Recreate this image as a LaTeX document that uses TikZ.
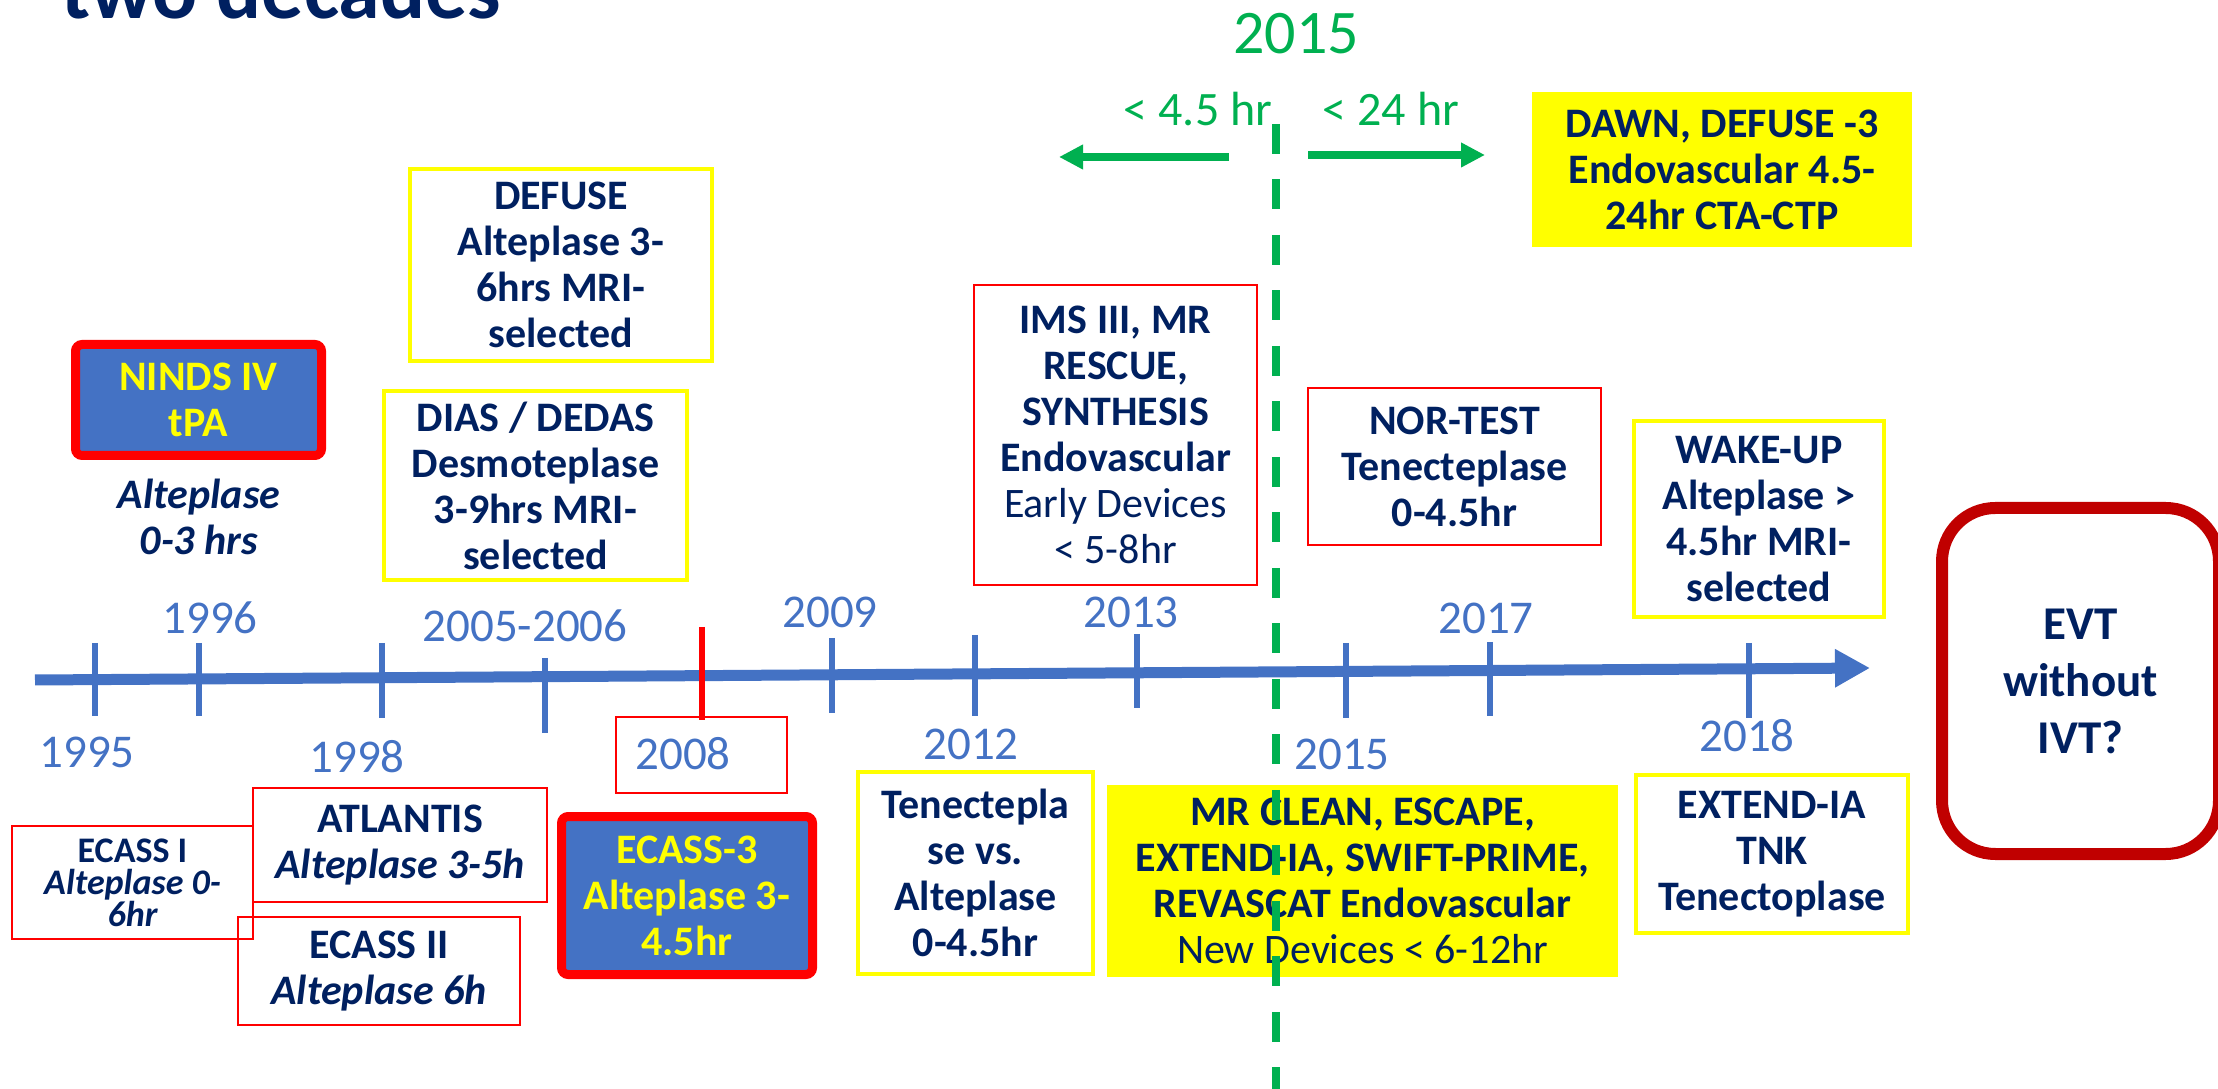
\documentclass[tikz,border=0pt]{standalone}
\usepackage{fontspec}
\setmainfont{Carlito}
\usetikzlibrary{arrows.meta}
\definecolor{navy}{HTML}{002060}
\definecolor{tlblue}{HTML}{4472C4}
\definecolor{tyellow}{HTML}{FFFF00}
\definecolor{tred}{HTML}{FF0000}
\definecolor{dkred}{HTML}{C00000}
\definecolor{tgreen}{HTML}{00B050}
\newcommand{\fsz}[2]{\fontsize{#1}{#2}\selectfont}
\begin{document}
\begin{tikzpicture}[x=0.3pt,y=-0.3pt,
  boxtxt/.style={font=\bfseries\fsz{12.6}{13.8}, text=navy, align=center, inner sep=0pt},
  ybox/.style={boxtxt, draw=tyellow, line width=1.2pt},
  yfill/.style={boxtxt, fill=tyellow},
  rbox/.style={boxtxt, draw=tred, line width=0.6pt},
  bbox/.style={boxtxt, fill=tlblue, draw=tred, line width=2.7pt, rounded corners=2pt, text=tyellow},
  year/.style={text=tlblue, font=\fsz{14.1}{16}, anchor=base, inner sep=0pt},
  tick/.style={draw=tlblue, line width=1.8pt},
  garrow/.style={draw=tgreen, line width=2.5pt, -{Triangle[length=7.2pt,width=7pt]}},
  gtxt/.style={text=tgreen, anchor=base, inner sep=0pt}
]
\useasboundingbox (0,0) rectangle (2218,1089);

% title
\node[anchor=base west, inner sep=0pt, font=\bfseries\fsz{25.2}{30}, text=navy] (title) at (61,19) {two decades};

% main axis
\coordinate (axL) at (35,680);
\coordinate (axR) at (1870,668);
\draw[draw=tlblue, line width=3.3pt, -{Triangle[length=10.5pt,width=10.8pt]}] (axL) -- (axR);

% ticks
\foreach \x/\a/\b in {95/643/716, 199/643/716, 382/643/718, 545/658/733, 832/638/713,
  975/635/716, 1137/634/708, 1346/643/718, 1490/642/716, 1749/643/718}
  \draw[tick] (\x,\a) -- (\x,\b);
\draw[draw=tred, line width=1.6pt] (702,627) -- (702,720);

% year labels
\node[year] (y1996) at (210,634) {1996};
\node[year] (y2005) at (525,642) {2005-2006};
\node[year] (y2009) at (830,627) {2009};
\node[year] (y2013) at (1131,627) {2013};
\node[year] (y2017) at (1486,634) {2017};
\node[year] (y1995) at (87,767) {1995};
\node[year] (y1998) at (357,772) {1998};
\node[year] (y2008) at (683,770) {2008};
\node[year] (y2012) at (971,760) {2012};
\node[year] (y2015) at (1342,770) {2015};
\node[year] (y2018) at (1747,752) {2018};

% upper boxes
\node[bbox, minimum width=73.8pt, minimum height=33.3pt] (ninds) at (198.5,400) {NINDS IV\\tPA};
\node[boxtxt, font=\bfseries\itshape\fsz{12.6}{13.8}] (alt03) at (199,517) {Alteplase\\0-3 hrs};
\node[ybox, minimum width=90.6pt, minimum height=57.6pt] (defuse) at (561,265) {DEFUSE\\Alteplase 3-\\6hrs MRI-\\selected};
\node[ybox, minimum width=90.9pt, minimum height=56.7pt] (dias) at (535.5,485.5) {DIAS / DEDAS\\Desmoteplase\\3-9hrs MRI-\\selected};
\node[yfill, minimum width=114pt, minimum height=46.5pt] (dawn) at (1722,169.5) {DAWN, DEFUSE -3\\Endovascular 4.5-\\24hr CTA-CTP};
\node[rbox, minimum width=84.9pt, minimum height=90pt] (ims) at (1115.5,435) {IMS III, MR\\RESCUE,\\SYNTHESIS\\Endovascular\\\mdseries Early Devices\\\mdseries < 5-8hr};
\node[rbox, minimum width=87.9pt, minimum height=47.1pt] (nortest) at (1454.5,466.5) {NOR-TEST\\Tenecteplase\\0-4.5hr};
\node[ybox, minimum width=75pt, minimum height=58.8pt] (wakeup) at (1759,519) {WAKE-UP\\Alteplase >\\4.5hr MRI-\\selected};
\node[boxtxt, draw=dkred, line width=3.6pt, rounded corners=16pt, font=\bfseries\fsz{14.1}{17.1},
  minimum width=83.1pt, minimum height=103.8pt] (evt) at (2080.5,681) {EVT\\without\\IVT?};

% lower boxes
\node[rbox, font=\bfseries\fsz{10.8}{9.6}, minimum width=72.3pt, minimum height=33.9pt] (ecass1) at (132.5,882.5)
  {ECASS I\\\itshape Alteplase 0-\\\itshape 6hr};
\node[rbox, minimum width=88.2pt, minimum height=34.2pt] (atlantis) at (400,845) {ATLANTIS\\\itshape Alteplase 3-5h};
\node[rbox, minimum width=84.6pt, minimum height=32.4pt] (ecass2) at (379,971) {ECASS II\\\itshape Alteplase 6h};
\node[rbox, minimum width=51.3pt, minimum height=22.8pt] (box2008) at (701.5,755) {};
\node[bbox, minimum width=75.3pt, minimum height=47.4pt] (ecass3) at (687,895.5) {ECASS-3\\Alteplase 3-\\4.5hr};
\node[ybox, minimum width=70.5pt, minimum height=60.6pt] (tenecte) at (975.5,873) {Tenectepla\\se vs.\\Alteplase\\0-4.5hr};
\node[yfill, minimum width=153.3pt, minimum height=57.6pt] (mrclean) at (1362.5,881)
  {MR CLEAN, ESCAPE,\\EXTEND-IA, SWIFT-PRIME,\\REVASCAT Endovascular\\\mdseries New Devices < 6-12hr};
\node[ybox, minimum width=81.6pt, minimum height=47.4pt] (extend) at (1772,854) {EXTEND-IA\\TNK\\Tenectoplase};

% 2015 marker
\node[gtxt, font=\fsz{18.6}{20}] (g2015) at (1296,54) {2015};
\node[gtxt, font=\fsz{14.4}{16}] (lt45) at (1198,126) {< 4.5 hr};
\node[gtxt, font=\fsz{14.4}{16}] (lt24) at (1391,126) {< 24 hr};
\coordinate (gl1) at (1229,157);
\coordinate (gl2) at (1059,157);
\coordinate (gr1) at (1308,155);
\coordinate (gr2) at (1485,155);
\draw[garrow] (gl1) -- (gl2);
\draw[garrow] (gr1) -- (gr2);
\coordinate (gtop) at (1276,124);
\coordinate (gbot) at (1276,1089);
\draw[draw=tgreen, line width=2.4pt, dash pattern=on 9pt off 7.65pt] (gtop) -- (gbot);
\end{tikzpicture}
\end{document}
